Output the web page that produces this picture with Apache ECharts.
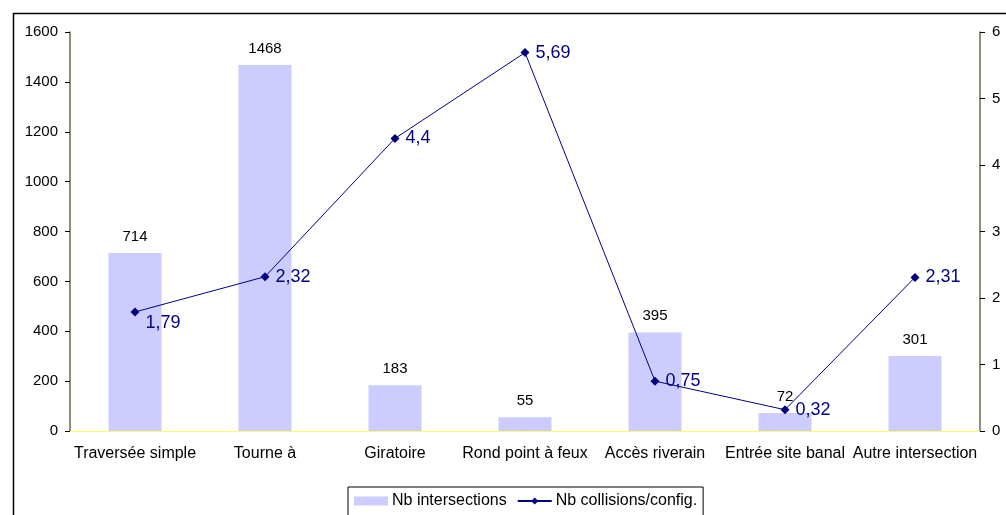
<!DOCTYPE html>
<html><head><meta charset="utf-8">
<script src="https://cdn.jsdelivr.net/npm/echarts@6/dist/echarts.min.js"></script>
<style>html,body{margin:0;padding:0;background:#fff}#c{width:1006px;height:515px}</style>
</head><body><div id="c"></div>
<script>
const categories = ['Traversée simple', 'Tourne à', 'Giratoire', 'Rond point à feux', 'Accès riverain', 'Entrée site banal', 'Autre intersection'];
const nbIntersections = [714, 1468, 183, 55, 395, 72, 301];
const nbCollisions = [1.79, 2.32, 4.4, 5.69, 0.75, 0.32, 2.31];

const font = 'Liberation Sans, Arial, sans-serif';
const chart = echarts.init(document.getElementById('c'));
chart.setOption({
  animation: false,
  textStyle: { fontFamily: font },
  graphic: [{
    type: 'rect', left: 11, top: 11, silent: true,
    shape: { width: 1010, height: 520 },
    style: { fill: 'none', stroke: '#000', lineWidth: 1.5 }
  }],
  grid: { left: 70, right: 26, top: 32, bottom: 84 },
  legend: {
    top: 487, left: 348,
    padding: [6, 6, 14, 6],
    borderColor: '#000', borderWidth: 1,
    itemGap: 10,
    itemWidth: 34, itemHeight: 9,
    textStyle: { fontFamily: font, fontSize: 16, color: '#000', padding: [0, 0, 0, -1] },
    data: [
      { name: 'Nb intersections', icon: 'rect' },
      { name: 'Nb collisions/config.' }
    ]
  },
  xAxis: [{
    type: 'category', data: categories,
    axisLine: { lineStyle: { color: '#000', width: 1 } },
    axisTick: { length: 5, lineStyle: { color: '#000' } },
    axisLabel: { color: '#000', fontSize: 16, margin: 15, interval: 0, fontFamily: font }
  }, {
    type: 'category', data: categories, position: 'top',
    axisLine: { show: true, lineStyle: { color: '#ffff66', width: 1 } },
    axisTick: { show: false }, axisLabel: { show: false }
  }],
  yAxis: [{
    type: 'value', min: 0, max: 1600, interval: 200,
    axisLine: { show: true, lineStyle: { color: '#6b6b4b', width: 1.5 } },
    axisTick: { show: true, length: 5, lineStyle: { color: '#000' } },
    splitLine: { show: false },
    axisLabel: { color: '#000', fontSize: 15, margin: 12, fontFamily: font, formatter: v => String(v) }
  }, {
    type: 'value', min: 0, max: 6, interval: 1, position: 'right',
    axisLine: { show: true, lineStyle: { color: '#6b6b4b', width: 1.5 } },
    axisTick: { show: true, length: 5, lineStyle: { color: '#000' } },
    splitLine: { show: false },
    axisLabel: { color: '#000', fontSize: 15, margin: 12, fontFamily: font }
  }],
  series: [{
    name: 'Nb intersections', type: 'bar', data: nbIntersections,
    barWidth: 53,
    itemStyle: { color: '#ccccff' },
    label: { show: true, position: 'top', distance: 9, color: '#000', fontSize: 15, fontFamily: font }
  }, {
    name: 'Nb collisions/config.', type: 'line', yAxisIndex: 1,
    data: nbCollisions.map((v, i) => i === 0 ? { value: v, label: { offset: [0, 11] } } : v),
    symbol: 'diamond', symbolSize: 9,
    lineStyle: { color: '#000080', width: 1 },
    itemStyle: { color: '#000080' },
    label: {
      show: true, position: 'right', distance: 6, color: '#000080', fontSize: 18, fontFamily: font,
      formatter: p => String(p.value).replace('.', ',')
    }
  }]
});
</script></body></html>
